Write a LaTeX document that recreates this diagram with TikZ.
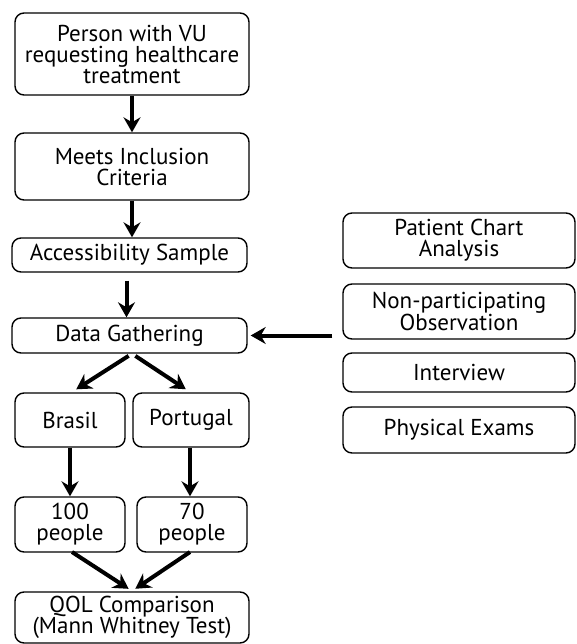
\documentclass[tikz,border=0pt]{standalone}
\usepackage{fontspec}
\setmainfont{PT Sans}
\usepackage{tikz}
\usetikzlibrary{positioning, arrows.meta}

\tikzset{
  box/.style={draw, rounded corners=9pt, line width=1.4pt, align=center,
    inner sep=0pt, font=\fontsize{23}{21}\selectfont},
  flow/.style={line width=4pt, -{Stealth[length=15pt, width=17pt, inset=5pt]}}
}

\begin{document}
\begin{tikzpicture}[x=1pt, y=-1pt]
        \useasboundingbox (0,0) rectangle (576,644);
        % left column
        \node[box, minimum width=234pt, minimum height=82pt] (person) at (132,54) {Person with VU\\requesting healthcare\\treatment};
        \node[box, minimum width=234pt, minimum height=67pt] (meets) at (132,166.5) {Meets Inclusion\\Criteria};
        \node[box, minimum width=235pt, minimum height=34pt] (access) at (129.5,255) {Accessibility Sample};
        \node[box, minimum width=235pt, minimum height=35pt] (data) at (129.5,335.5) {Data Gathering};
        \node[box, minimum width=110pt, minimum height=54pt] (brasil) at (70,420) {Brasil};
        \node[box, minimum width=116pt, minimum height=54pt] (portugal) at (191,420) {Portugal};
        \node[box, minimum width=110pt, minimum height=55pt] (hundred) at (70,524.5) {100\\people};
        \node[box, minimum width=110pt, minimum height=55pt] (seventy) at (192,524.5) {70\\people};
        \node[box, minimum width=234pt, minimum height=51pt] (qol) at (132,617.5) {QOL Comparison\\(Mann Whitney Test)};
        % right column
        \node[box, minimum width=232pt, minimum height=55pt] (chart) at (459,240.5) {Patient Chart\\Analysis};
        \node[box, minimum width=232pt, minimum height=55pt] (obs) at (459,311.5) {Non-participating\\Observation};
        \node[box, minimum width=232pt, minimum height=39pt] (interview) at (459,372.5) {Interview};
        \node[box, minimum width=232pt, minimum height=46pt] (exams) at (459,430) {Physical Exams};

        \draw[flow] (person) -- (meets);
        \draw[flow] (meets.south) -- (meets.south |- access.north);
        \draw[flow] ([xshift=-3pt, yshift=-8pt]access.south) -- ([xshift=-3pt]data.north);
        \draw[flow, shorten <=4pt, shorten >=5pt] (data.south) ++(2.5pt,0) coordinate (split) -- (72,392);
        \draw[flow, shorten <=4pt, shorten >=5pt] (split) -- (190,392);
        \draw[flow] (brasil) -- (hundred);
        \draw[flow] ([xshift=-1pt]portugal.south) -- ([xshift=-2pt]seventy.north);
        \draw[flow, shorten >=4pt] (72,552) coordinate (a) -- (132,591) coordinate (join);
        \draw[flow, shorten >=4pt] (190,552) -- (join);
        \draw[flow, shorten <=10pt, shorten >=3pt] (obs.west |- data) -- (data.east);
\end{tikzpicture}
\end{document}
